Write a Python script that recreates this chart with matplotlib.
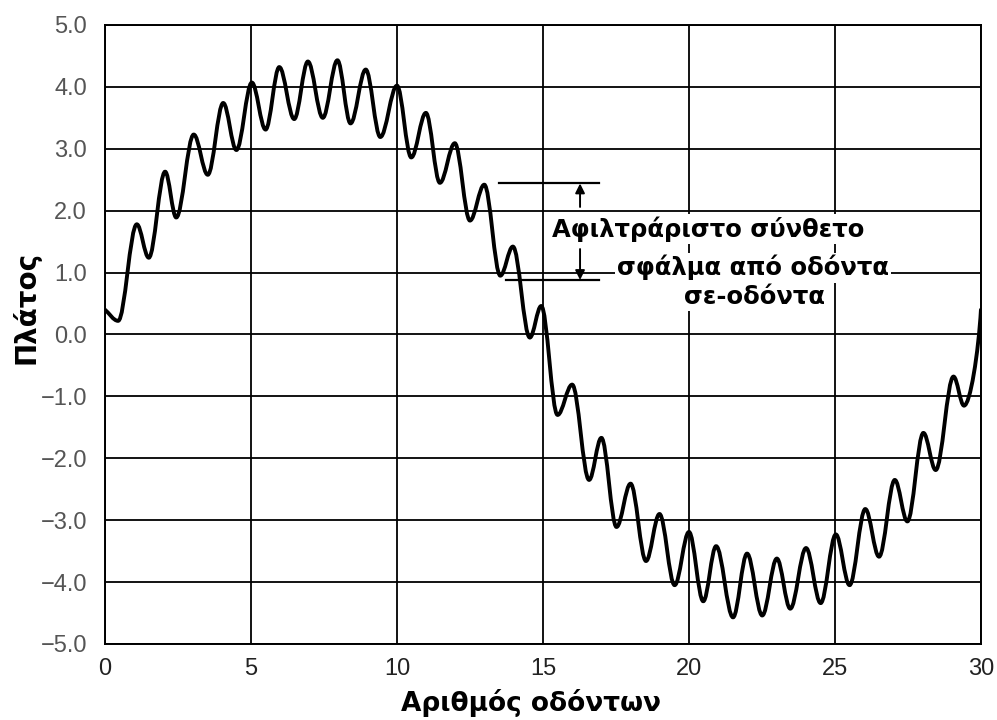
import matplotlib.pyplot as plt
import numpy as np
from matplotlib.path import Path
from matplotlib.patches import PathPatch

# Turning points of the composite error trace
tooth_x = [0.0, 0.45, 1.09, 1.50, 2.06, 2.44, 3.04, 3.52, 4.05, 4.50,
           5.03, 5.50, 5.97, 6.48, 6.95, 7.46, 7.96, 8.41, 8.93, 9.43,
           10.0, 10.49, 10.99, 11.47, 11.98, 12.50, 12.99, 13.54, 13.97, 14.55,
           14.94, 15.50, 16.00, 16.58, 17.00, 17.52, 18.00, 18.53, 18.99, 19.51,
           20.00, 20.49, 20.93, 21.51, 21.99, 22.51, 23.01, 23.47, 24.01, 24.51,
           25.03, 25.50, 26.04, 26.51, 27.05, 27.48, 28.03, 28.45, 29.06, 29.42,
           30.0]
tooth_y = [0.40, 0.22, 1.78, 1.24, 2.63, 1.89, 3.23, 2.58, 3.74, 2.98,
           4.07, 3.31, 4.32, 3.48, 4.41, 3.50, 4.43, 3.41, 4.28, 3.19,
           4.02, 2.86, 3.58, 2.45, 3.09, 1.84, 2.42, 0.95, 1.42, -0.05,
           0.46, -1.30, -0.81, -2.35, -1.67, -3.11, -2.41, -3.66, -2.90, -4.05,
           -3.19, -4.31, -3.42, -4.57, -3.54, -4.54, -3.62, -4.43, -3.45, -4.34,
           -3.23, -4.05, -2.82, -3.59, -2.35, -3.02, -1.59, -2.19, -0.68, -1.15,
           0.40]

x_ticks = [0, 5, 10, 15, 20, 25, 30]
y_ticks = [-5.0, -4.0, -3.0, -2.0, -1.0, 0.0, 1.0, 2.0, 3.0, 4.0, 5.0]

# peak-to-peak marker levels
marker_hi = 2.44
marker_lo = 0.88

fig = plt.figure(figsize=(9.97, 7.2), dpi=100)
ax = fig.add_axes([0.1053, 0.1056, 0.8786, 0.8597])
ax.set_xlim(0, 30)
ax.set_ylim(-5, 5)

ax.set_xticks(x_ticks)
ax.set_yticks(y_ticks)
ax.set_xticklabels([str(v) for v in x_ticks])
ax.set_yticklabels(['%.1f' % v if v >= 0 else '\u2212%.1f' % -v for v in y_ticks])
ax.tick_params(length=0)
ax.tick_params(axis='x', pad=10, labelsize=17, labelcolor='#222222')
ax.tick_params(axis='y', pad=13, labelsize=17, labelcolor='#555555')
for lab in ax.get_xticklabels() + ax.get_yticklabels():
    lab.set_family(['Liberation Sans', 'DejaVu Sans'])
ax.grid(True, color='black', linewidth=1.3)
ax.set_axisbelow(True)
for sp in ax.spines.values():
    sp.set_linewidth(1.4)

# smooth trace: cubic segments with flat tangents at each turning point
verts = [(tooth_x[0], tooth_y[0])]
codes = [Path.MOVETO]
k = 0.36
for i in range(len(tooth_x) - 1):
    x0, y0 = tooth_x[i], tooth_y[i]
    x1, y1 = tooth_x[i + 1], tooth_y[i + 1]
    dx = x1 - x0
    if i == len(tooth_x) - 2:
        c2 = (x1 - 0.15 * dx, y1 - 0.45 * (y1 - y0))
    else:
        c2 = (x1 - k * dx, y1)
    if i == 0:
        c1 = (x0 + 0.3 * dx, y0 - 0.05)
    else:
        c1 = (x0 + k * dx, y0)
    verts += [c1, c2, (x1, y1)]
    codes += [Path.CURVE4] * 3
ax.add_patch(PathPatch(Path(verts, codes), facecolor='none', edgecolor='black',
                       linewidth=2.8, capstyle='round', joinstyle='round', zorder=3))

# annotation: peak-to-peak bars and arrows
ax.plot([13.48, 16.93], [marker_hi, marker_hi], color='black', linewidth=1.6, zorder=4)
ax.plot([13.72, 16.93], [marker_lo, marker_lo], color='black', linewidth=1.6, zorder=4)
ax.annotate('', xy=(16.27, marker_hi), xytext=(16.27, 2.06),
            arrowprops=dict(arrowstyle='-|>', color='black', lw=1.4, mutation_scale=14,
                            shrinkA=0, shrinkB=0), zorder=4)
ax.annotate('', xy=(16.27, marker_lo), xytext=(16.27, 1.38),
            arrowprops=dict(arrowstyle='-|>', color='black', lw=1.4, mutation_scale=14,
                            shrinkA=0, shrinkB=0), zorder=4)

box = dict(facecolor='white', edgecolor='none', pad=1.5)
tfont = dict(fontsize=17.5, fontweight='bold', family='DejaVu Sans',
             ha='center', va='center', zorder=5)
ax.text(20.65, 1.70, 'Αφιλτράριστο σύνθετο', bbox=box, **tfont)
ax.text(22.2, 1.08, 'σφάλμα από οδόντα', bbox=box, **tfont)
ax.text(22.26, 0.61, 'σε-οδόντα', bbox=box, **tfont)

ax.set_xlabel('Αριθμός οδόντων', fontsize=19, fontweight='bold', family='DejaVu Sans')
ax.xaxis.set_label_coords(0.486, -0.072)
ax.set_ylabel('Πλάτος', fontsize=20, fontweight='bold', family='DejaVu Sans')
ax.yaxis.set_label_coords(-0.074, 0.543)

fig.savefig('out.png', dpi=100, facecolor='white')
